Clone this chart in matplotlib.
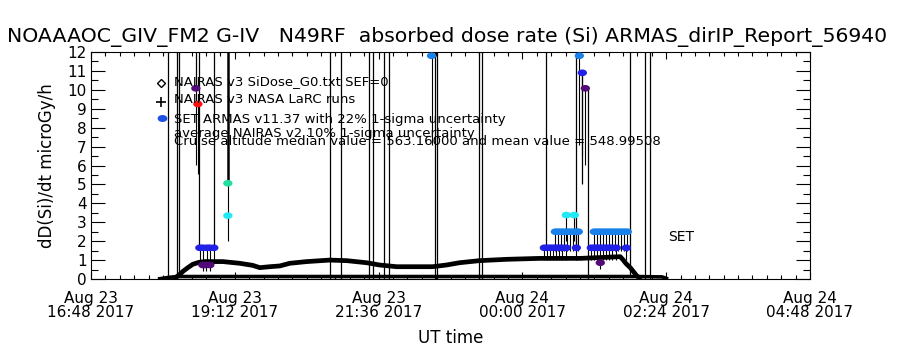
import numpy as np
import matplotlib
matplotlib.use("Agg")
import matplotlib.pyplot as plt
import matplotlib.dates as mdates
from matplotlib.path import Path

# ---------------- data ----------------
# times are "DDTHH:MM" within August 2017
nairas_t = ["23T18:12", "23T18:16", "23T18:20", "23T18:25", "23T18:30", "23T18:36", "23T18:42",
            "23T19:00", "23T19:17", "23T19:30", "23T19:37", "23T19:47", "23T19:57", "23T20:07",
            "23T20:24", "23T20:47", "23T21:04", "23T21:24", "23T21:37", "23T21:54", "23T22:30",
            "23T22:44", "23T22:57", "23T23:17", "23T23:44", "24T00:17", "24T00:58", "24T01:38",
            "24T01:41", "24T01:44", "24T01:48", "24T01:51", "24T01:54", "24T01:57"]
nairas_v = [0.05, 0.20, 0.40, 0.60, 0.78, 0.88, 0.92,
            0.92, 0.83, 0.72, 0.60, 0.65, 0.69, 0.83,
            0.92, 1.00, 0.97, 0.86, 0.74, 0.65, 0.65,
            0.74, 0.86, 0.97, 1.04, 1.09, 1.09, 1.18,
            1.00, 0.80, 0.60, 0.40, 0.20, 0.05]

larc_t = ["23T17:55", "23T18:05", "23T18:14", "23T20:00", "23T22:00", "24T00:00",
          "24T01:55", "24T02:20", "24T02:26"]
larc_v = [0.00, 0.08, 0.13, 0.13, 0.13, 0.13, 0.13, 0.11, 0.00]

vline_t = ["23T18:05", "23T18:14", "23T18:16", "23T18:33", "23T18:36", "23T18:51", "23T19:05",
           "23T20:47", "23T20:58", "23T21:26", "23T21:30", "23T21:41", "23T21:46",
           "23T22:32", "23T22:34", "23T23:17", "23T23:20", "24T00:24", "24T00:54",
           "24T01:00", "24T01:06", "24T01:48", "24T02:03", "24T02:08"]
vline_lo = [0.0, 0.1, 0.1, 10.08, 1.65, 1.65, 5.06,
            0.0, 0.0, 0.0, 0.0, 0.0, 0.0,
            0.0, 0.0, 0.0, 0.0, 1.65, 1.65,
            5.0, 0.0, 0.2, 0.0, 0.0]
vline_hi = [12.0, 12.0, 12.0, 12.0, 12.0, 12.0, 12.0,
            12.0, 12.0, 12.0, 12.0, 12.0, 12.0,
            12.0, 12.0, 12.0, 12.0, 12.0, 12.0,
            10.9, 10.08, 12.0, 12.0, 12.0]
vline_w = [1, 1, 1, 1, 1, 1, 2,
           1, 1, 1, 1, 1, 1,
           1, 1, 1, 1, 1, 1,
           1, 1, 1, 1, 1]

armas_t = ["23T18:33", "23T18:35", "23T18:37", "23T18:40", "23T18:44", "23T18:47", "23T18:51",
           "23T18:40", "23T18:43", "23T18:47", "23T19:05", "23T19:05", "23T22:29",
           "24T00:57", "24T01:00", "24T01:03", "24T00:44", "24T00:52",
           "24T00:33", "24T00:36", "24T00:39", "24T00:42", "24T00:45", "24T00:48", "24T00:51",
           "24T00:54", "24T00:56",
           "24T01:12", "24T01:15", "24T01:18", "24T01:21", "24T01:24", "24T01:27", "24T01:30",
           "24T01:33", "24T01:36", "24T01:39", "24T01:42", "24T01:45",
           "24T00:22", "24T00:25", "24T00:28", "24T00:31", "24T00:34", "24T00:37", "24T00:40",
           "24T00:44", "24T00:54",
           "24T01:09", "24T01:12", "24T01:15", "24T01:18", "24T01:21", "24T01:24", "24T01:27",
           "24T01:30", "24T01:34", "24T01:44", "24T01:18"]
armas_v = [10.08, 9.25, 1.65, 1.65, 1.65, 1.65, 1.65,
           0.74, 0.74, 0.74, 5.06, 3.35, 11.80,
           11.80, 10.90, 10.08, 3.38, 3.38,
           2.50, 2.50, 2.50, 2.50, 2.50, 2.50, 2.50,
           2.50, 2.50,
           2.50, 2.50, 2.50, 2.50, 2.50, 2.50, 2.50,
           2.50, 2.50, 2.50, 2.50, 2.50,
           1.65, 1.65, 1.65, 1.65, 1.65, 1.65, 1.65,
           1.65, 1.65,
           1.65, 1.65, 1.65, 1.65, 1.65, 1.65, 1.65,
           1.65, 1.65, 1.65, 0.86]
armas_c = ["purple", "red", "dblue", "dblue", "dblue", "dblue", "dblue",
           "purple", "purple", "purple", "green", "cyan", "lblue",
           "lblue", "dblue", "purple", "cyan", "cyan",
           "lblue", "lblue", "lblue", "lblue", "lblue", "lblue", "lblue",
           "lblue", "lblue",
           "lblue", "lblue", "lblue", "lblue", "lblue", "lblue", "lblue",
           "lblue", "lblue", "lblue", "lblue", "lblue",
           "dblue", "dblue", "dblue", "dblue", "dblue", "dblue", "dblue",
           "dblue", "dblue",
           "dblue", "dblue", "dblue", "dblue", "dblue", "dblue", "dblue",
           "dblue", "dblue", "dblue", "purple"]

legend_lines = ["NAIRAS v3 SiDose_G0.txt SEF=0",
                "NAIRAS v3 NASA LaRC runs",
                "SET ARMAS v11.37 with 22% 1-sigma uncertainty",
                "average NAIRAS v2 10% 1-sigma uncertainty",
                "Cruise altitude median value = 563.16000 and mean value = 548.99508"]
title = "NOAAAOC_GIV_FM2 G-IV   N49RF  absorbed dose rate (Si) ARMAS_dirIP_Report_56940"
ylabel = "dD(Si)/dt microGy/h"
xlabel = "UT time"
x_start, x_end = "23T16:48", "24T04:48"
y_ticks = list(range(0, 13))
# --------------------------------------

palette = {"purple": "#520a78", "red": "#ff1010", "dblue": "#2020e6", "lblue": "#1a80ea",
           "cyan": "#20e8f4", "green": "#20e09c"}


def tt(lst):
    return np.array(["2017-08-" + s for s in lst], dtype="datetime64[m]")


plt.rcParams['font.family'] = ['DejaVu Sans']
fig = plt.figure(figsize=(9, 3.5), dpi=100)
ax = fig.add_axes([91 / 900, 1 - 279 / 350, (810 - 91) / 900, (279 - 52) / 350])

theta = np.linspace(0, 2 * np.pi, 41)
ell = Path(np.column_stack([np.cos(theta), 0.72 * np.sin(theta)]), closed=True)

# vertical lines
vt = tt(vline_t)
for t, lo, hi, w in zip(vt, vline_lo, vline_hi, vline_w):
    ax.vlines(t, lo, hi, color="black", lw=0.9 * w, zorder=1)

ax.plot(tt(larc_t), larc_v, color="black", lw=2.6, zorder=2, solid_capstyle="butt")
ax.plot(tt(nairas_t), nairas_v, color="black", lw=3.4, zorder=2)

at = tt(armas_t)
av = np.array(armas_v)
ax.vlines(at, av * 0.6, av, color="black", lw=0.8, zorder=3)
ax.scatter(at, av, s=45, marker=ell, c=[palette[c] for c in armas_c], linewidths=0, zorder=4)

t0 = tt([x_start])[0]
ax.set_xlim(t0, tt([x_end])[0])
ax.set_ylim(0, 12)
ax.set_yticks(y_ticks)
ax.set_yticks(np.arange(0.5, 12, 1.0), minor=True)
ax.set_xticks(t0 + np.arange(6) * np.timedelta64(144, "m"))
ax.set_xticks(t0 + (np.arange(0, 721, 14.4) * 60).astype("timedelta64[s]"), minor=True)
ax.xaxis.set_major_formatter(mdates.DateFormatter("%b %d\n%H:%M %Y"))
for lbl in ax.get_xticklabels():
    lbl.set_linespacing(0.9)

ax.tick_params(axis="both", which="both", direction="in", top=True, right=True, width=0.8)
ax.tick_params(axis="y", which="major", length=10, labelsize=11, pad=3)
ax.tick_params(axis="y", which="minor", length=5)
ax.tick_params(axis="x", which="major", length=5, labelsize=11, pad=9)
ax.tick_params(axis="x", which="minor", length=3)
for s in ax.spines.values():
    s.set_linewidth(0.8)

ax.set_ylabel(ylabel, fontsize=12, labelpad=8)
ax.set_xlabel(xlabel, fontsize=12, labelpad=6)
fig.text(0.497, 1 - 37 / 350, title, ha="center", va="center", fontsize=14.7)

# legend drawn in axes coordinates
tx = (174 - 91) / 719
ys_text = [0.869, 0.789, 0.704, 0.639, 0.605]
for s, y in zip(legend_lines, ys_text):
    ax.text(tx, y, s, transform=ax.transAxes, fontsize=9.5, va="center", ha="left", zorder=5)
mx = (161 - 91) / 719
ax.plot([mx], [0.863], marker="D", ms=4, mfc="white", mec="black", mew=1, transform=ax.transAxes,
        clip_on=False)
ax.plot([mx], [0.78], marker="+", ms=7, color="black", mew=1.2, transform=ax.transAxes,
        clip_on=False)
ax.plot([mx + 0.002], [0.709], marker=ell, ms=7, color="#1e50e6", mew=0, transform=ax.transAxes,
        clip_on=False)
ax.text(tt(["24T02:26"])[0], 2.2, "SET", fontsize=10, va="center", ha="left")

fig.savefig("out.png", dpi=100)
